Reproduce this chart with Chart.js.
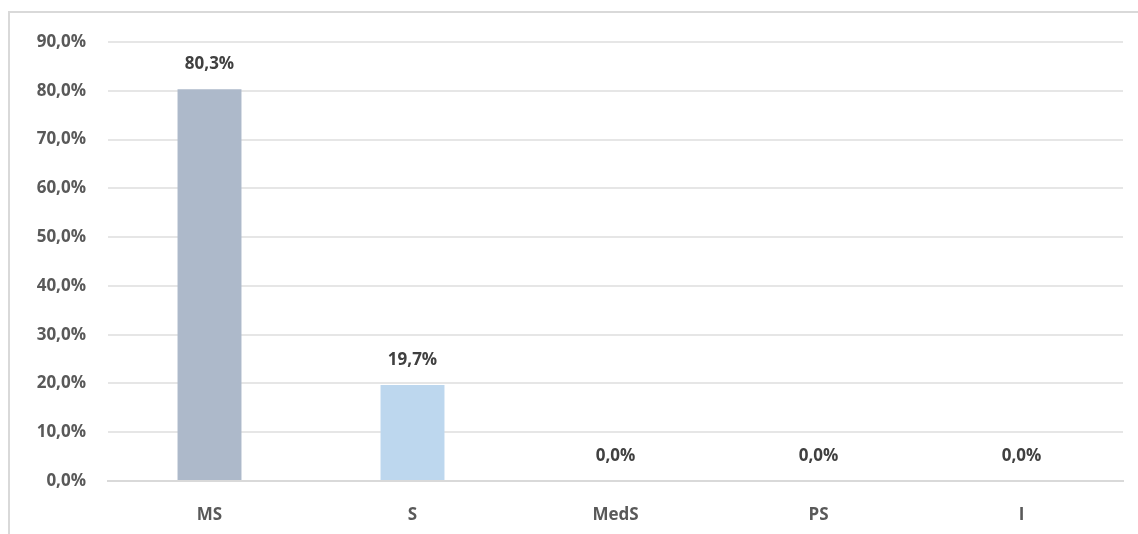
<!DOCTYPE html>
<html>
<head>
<meta charset="utf-8">
<script src="https://cdn.jsdelivr.net/npm/chart.js@4/dist/chart.umd.min.js"></script>
<style>
  html, body { margin: 0; padding: 0; background: #fff; }
  #frame {
    position: absolute; left: 8px; top: 11px; width: 1130px; height: 523px;
    border-top: 2px solid #d9d9d9; border-left: 2px solid #d9d9d9;
    box-sizing: border-box;
  }
  #chart { display: block; }
</style>
</head>
<body>
<div id="frame"><canvas id="chart" width="1128" height="521"></canvas></div>
<script>
// Share of responses per category (%)
const categories = ['MS', 'S', 'MedS', 'PS', 'I'];
const shares = [80.3, 19.7, 0.0, 0.0, 0.0];
const barColors = ['#ADB9CA', '#BDD7EE', '#BDD7EE', '#BDD7EE', '#BDD7EE'];
const yTicks = [0, 10, 20, 30, 40, 50, 60, 70, 80, 90];

const fmt = v => v.toFixed(1).replace('.', ',') + '%';
const textColor = '#595959';
const fontFamily = '"Open Sans", "Noto Sans", sans-serif';

// Writes each bar's value just above it
const valueLabels = {
  id: 'valueLabels',
  afterDatasetsDraw(chart) {
    const ctx = chart.ctx;
    const meta = chart.getDatasetMeta(0);
    ctx.save();
    ctx.font = 'bold 17px ' + fontFamily;
    ctx.fillStyle = '#404040';
    ctx.textAlign = 'center';
    ctx.textBaseline = 'middle';
    meta.data.forEach((bar, i) => {
      ctx.fillText(fmt(shares[i]), bar.x, bar.y - 25);
    });
    ctx.restore();
  }
};

new Chart(document.getElementById('chart'), {
  type: 'bar',
  data: {
    labels: categories,
    datasets: [{
      data: shares,
      backgroundColor: barColors,
      borderWidth: 0,
      barPercentage: 0.315,
      categoryPercentage: 1.0
    }]
  },
  options: {
    responsive: false,
    animation: false,
    layout: { padding: { left: 0, right: 15, top: 29, bottom: 0 } },
    plugins: { legend: { display: false }, tooltip: { enabled: false } },
    scales: {
      x: {
        grid: { display: false, drawTicks: false },
        border: { display: true, color: '#d9d9d9', width: 2 },
        ticks: { color: textColor, font: { family: fontFamily, size: 17, weight: 'bold' }, padding: 24 },
        afterFit(s) { s.height = 53; }
      },
      y: {
        min: 0, max: 90,
        afterBuildTicks(s) { s.ticks = yTicks.map(v => ({ value: v })); },
        grid: { color: '#e6e6e6', lineWidth: 2, drawTicks: false },
        border: { display: false },
        ticks: {
          color: textColor,
          font: { family: fontFamily, size: 17, weight: 'bold' },
          padding: 22,
          callback: v => fmt(v)
        },
        afterFit(s) { s.width = 98; s.paddingTop = 0; }
      }
    }
  },
  plugins: [valueLabels]
});
</script>
</body>
</html>
